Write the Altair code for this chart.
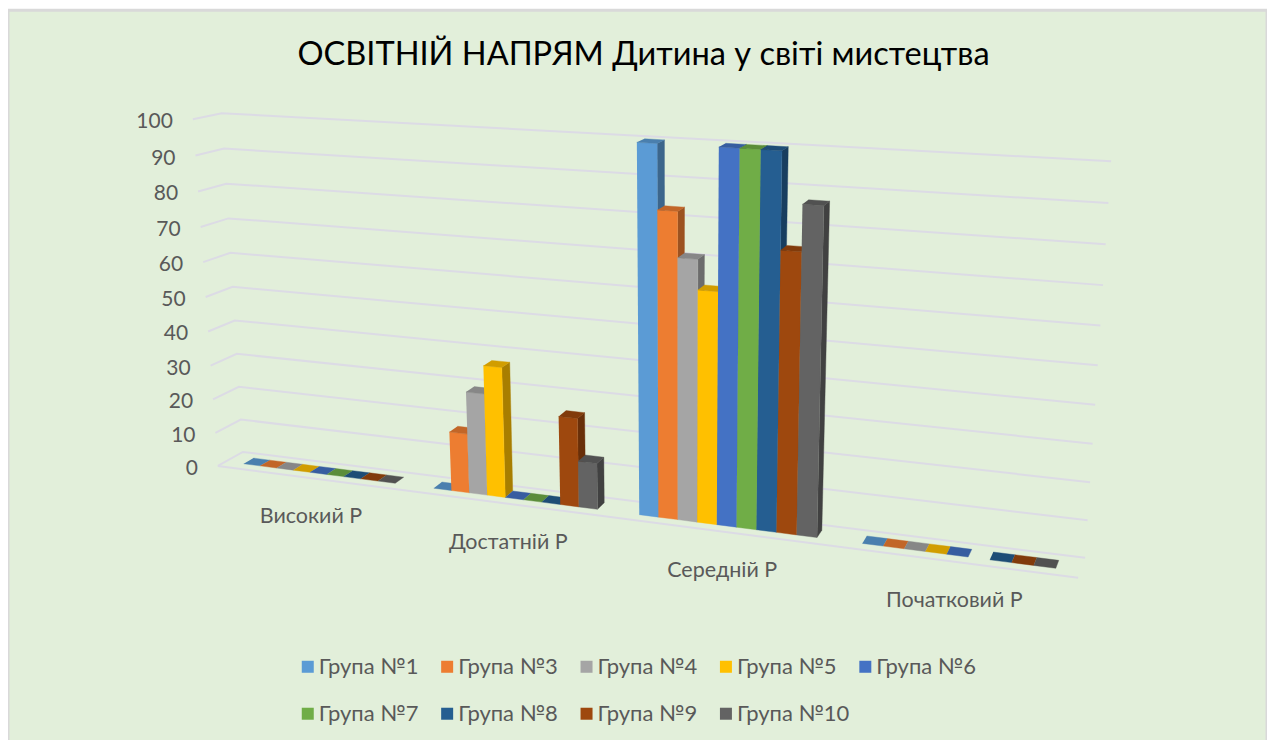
import numpy as np
import pandas as pd
import altair as alt

TITLE = "ОСВІТНІЙ НАПРЯМ Дитина у світі мистецтва"
categories = ["Високий Р", "Достатній Р", "Середній Р", "Початковий Р"]
groups = ["Група №1", "Група №3", "Група №4", "Група №5", "Група №6",
          "Група №7", "Група №8", "Група №9", "Група №10"]
colors = ["#5B9BD5", "#ED7D31", "#A5A5A5", "#FFC000", "#4472C4",
          "#70AD47", "#255E91", "#9E480E", "#636363"]
vysokyi = [0, 0, 0, 0, 0, 0, 0, 0, 0]
dostatnii = [0, 17, 29, 37, 0, 0, 0, 25, 13]
serednii = [100, 83, 71, 63, 100, 100, 100, 75, 87]
pochatkovyi = [0, 0, 0, 0, 0, None, 0, 0, 0]
series_by_category = [vysokyi, dostatnii, serednii, pochatkovyi]
y_ticks = [0, 10, 20, 30, 40, 50, 60, 70, 80, 90, 100]

W, H = 1260, 740
X0, Y0 = 8, 10

def quad(c):
    (x0, y0), (x1, y1), (x2, y2), (x3, y3) = c
    dx1, dx2, sx = x1 - x2, x3 - x2, x0 - x1 + x2 - x3
    dy1, dy2, sy = y1 - y2, y3 - y2, y0 - y1 + y2 - y3
    g, h = np.linalg.solve([[dx1, dx2], [dy1, dy2]], [sx, sy])
    return np.array([[x1 - x0 + g * x1, x3 - x0 + h * x3, x0],
                     [y1 - y0 + g * y1, y3 - y0 + h * y3, y0],
                     [g, h, 1.0]])

BACK = quad([(243, 452), (1086, 558), (1112, 161), (222, 113)])
FRONT = quad([(218, 466), (1079, 578), (1103, 173), (193, 119)])

def project(s, v, d):
    a = BACK @ np.array([s, v / 100, 1.0])
    b = FRONT @ np.array([s, v / 100, 1.0])
    a, b = a[:2] / a[2], b[:2] / b[2]
    return a + (b - a) * d

GAP = 2.2
D_BACK, D_FRONT = 0.28, 0.68
bw = 1 / (len(groups) + GAP) / len(categories)

def shade(hex_color, f):
    rgb = [int(hex_color[i:i + 2], 16) for i in (1, 3, 5)]
    return "#" + "".join(f"{int(c * f):02X}" for c in rgb)

rows = []
poly = 0
def face(pts, key):
    global poly
    for k, (px, py) in enumerate(pts):
        rows.append({"px": px, "py": py, "poly": poly, "k": k, "key": key})
    poly += 1

for c, vals in enumerate(series_by_category):
    for i, v in enumerate(vals):
        if v is None:
            continue
        s0 = (c + (GAP / 2 + i) * len(categories) * bw) / len(categories)
        s1 = s0 + bw
        g = groups[i]
        if v > 0:
            face([project(s1, 0, D_FRONT), project(s1, 0, D_BACK),
                  project(s1, v, D_BACK), project(s1, v, D_FRONT)], g + " side")
            face([project(s0, 0, D_FRONT), project(s1, 0, D_FRONT),
                  project(s1, v, D_FRONT), project(s0, v, D_FRONT)], g)
        face([project(s0, v, D_FRONT), project(s1, v, D_FRONT),
              project(s1, v, D_BACK), project(s0, v, D_BACK)], g + " top")
bars = pd.DataFrame(rows)

domain, rng = [], []
for g, col in zip(groups, colors):
    domain += [g, g + " side", g + " top"]
    rng += [col, shade(col, 0.66), shade(col, 0.82)]

grid_rows = []
for t in y_ticks:
    for k, (s, d) in enumerate([(0, 1), (0, 0), (1, 0)]):
        p = project(s, t, d)
        grid_rows.append({"px": p[0], "py": p[1], "g": t, "k": k})
for k, s in enumerate([0, 1]):
    p = project(s, 0, 1)
    grid_rows.append({"px": p[0], "py": p[1], "g": -1, "k": k})
grid = pd.DataFrame(grid_rows)

ticks = pd.DataFrame([
    {"px": project(0, t, 1)[0] - 20, "py": project(0, t, 1)[1] + 3, "t": str(t)}
    for t in y_ticks])

cat_rows = []
for c, name in enumerate(categories):
    p = project((c + 0.5) / len(categories), 0, 1)
    cat_rows.append({"px": p[0], "py": p[1] + 39, "t": name})
cats = pd.DataFrame(cat_rows)

x_enc = alt.X("px:Q", axis=None, scale=alt.Scale(domain=[X0, X0 + W]))
y_enc = alt.Y("py:Q", axis=None, scale=alt.Scale(domain=[Y0 + H, Y0]))

grid_layer = alt.Chart(grid).mark_line(color="#DCDBE5", strokeWidth=2).encode(
    x=x_enc, y=y_enc, detail="g:N", order="k:Q")

bar_layer = alt.Chart(bars).mark_line(strokeWidth=0.4, strokeJoin="round").encode(
    x=x_enc, y=y_enc, detail="poly:N", order="k:Q",
    stroke=alt.Stroke("key:N", scale=alt.Scale(domain=domain, range=rng), legend=None),
    fill=alt.Fill("key:N", scale=alt.Scale(domain=domain, range=rng), legend=alt.Legend(
        title=None, values=groups, orient="none", legendX=289, legendY=646, columns=5,
        direction="horizontal",
        symbolType="square", symbolSize=144, symbolStrokeWidth=0,
        labelFont="Lato", labelFontSize=22, labelColor="#595959",
        labelLimit=200, gridAlign="all", columnPadding=4.5, rowPadding=25,
        symbolOpacity=1, labelOffset=0)))

tick_layer = alt.Chart(ticks).mark_text(
    align="right", baseline="middle", font="Lato", fontSize=21, color="#595959"
).encode(x=x_enc, y=y_enc, text="t:N")

cat_layer = alt.Chart(cats).mark_text(
    align="center", baseline="middle", font="Lato", fontSize=21.5, color="#595959"
).encode(x=x_enc, y=y_enc, text="t:N")

chart = (grid_layer + bar_layer + tick_layer + cat_layer).properties(
    width=W, height=H,
    padding={"left": 0, "top": 2, "right": 0, "bottom": 0},
    autosize=alt.AutoSizeParams(type="none"),
    background="#FFFFFF",
    title=alt.TitleParams(TITLE, anchor="middle", font="Lato", fontSize=32.6, dx=6,
                          fontWeight="normal", color="#000000", offset=-61),
).configure_view(fill="#E2EFDA", stroke="#D9D9D9", strokeWidth=3)

chart.save("out.html", embed_options={"renderer": "svg", "actions": False})
